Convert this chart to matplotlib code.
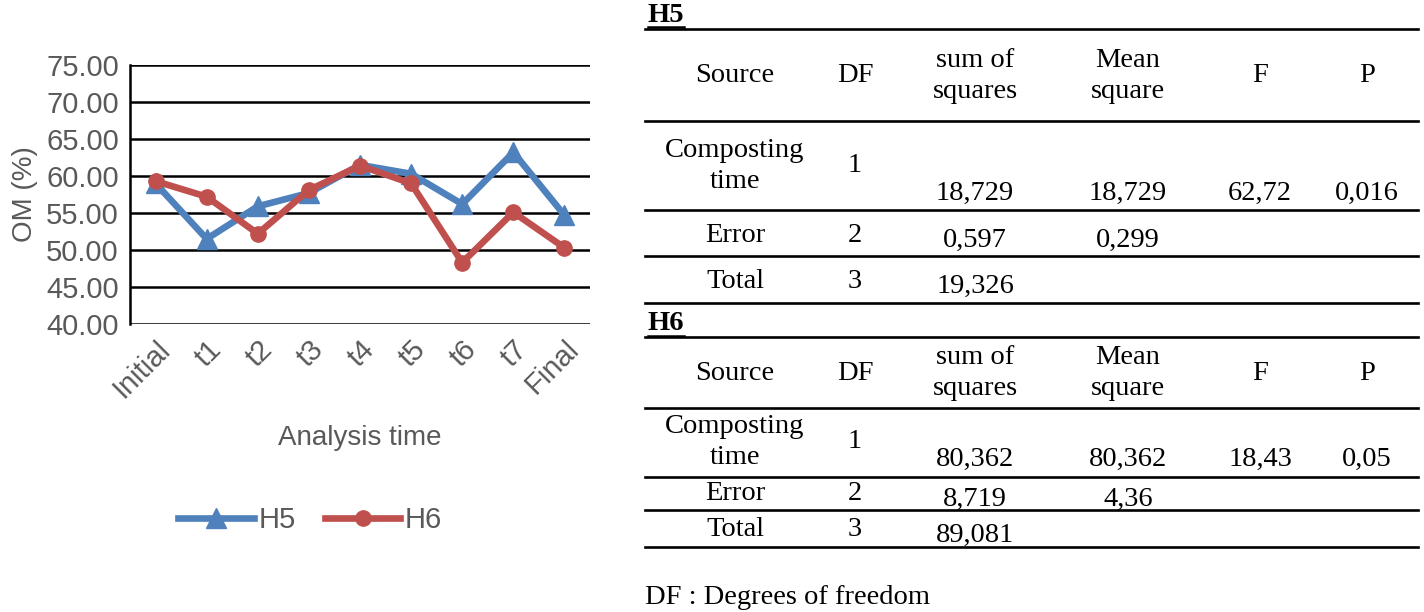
import matplotlib
matplotlib.use("Agg")
import matplotlib.pyplot as plt

# Data
tiempos = ['Initial', 't1', 't2', 't3', 't4', 't5', 't6', 't7', 'Final']
h5 = [59.0, 51.5, 55.9, 57.7, 61.5, 60.3, 56.2, 63.2, 54.7]
h6 = [59.3, 57.2, 52.2, 58.1, 61.4, 59.0, 48.3, 55.1, 50.3]

cabecalho = ['Source', 'DF', 'sum of\nsquares', 'Mean\nsquare', 'F', 'P']
fontes = ['Composting\ntime', 'Error', 'Total']
df_vals = ['1', '2', '3']
h5_ss = ['18,729', '0,597', '19,326']
h5_ms = ['18,729', '0,299', '']
h5_f = ['62,72', '', '']
h5_p = ['0,016', '', '']
h6_ss = ['80,362', '8,719', '89,081']
h6_ms = ['80,362', '4,36', '']
h6_f = ['18,43', '', '']
h6_p = ['0,05', '', '']

cinza = '#595959'
azul = '#4F81BD'
vermelho = '#C0504D'

fig = plt.figure(figsize=(14.24, 6.12), dpi=100)

# Line chart
ax = fig.add_axes([130/1424, 1-324/612, 460/1424, 259/612])
x = range(len(tiempos))
ax.plot(x, h5, color=azul, lw=4.8, marker='^', ms=15, label='H5', zorder=3)
ax.plot(x, h6, color=vermelho, lw=4.8, marker='o', ms=11, label='H6', zorder=4)
ax.set_xlim(-0.5, len(tiempos) - 0.5)
ax.set_ylim(40, 75)
ax.set_yticks(range(40, 76, 5))
ax.set_yticklabels([f'{v:.2f}' for v in range(40, 76, 5)])
ax.set_xticks(list(x))
ax.set_xticklabels(tiempos, rotation=45, ha='right', rotation_mode='anchor')
ax.tick_params(length=0, labelsize=21, labelcolor=cinza, pad=8)
for lab in ax.get_xticklabels() + ax.get_yticklabels():
    lab.set_fontfamily('Liberation Sans')
ax.grid(axis='y', color='black', lw=1.8)
ax.set_axisbelow(True)
for s in ['top', 'right', 'bottom']:
    ax.spines[s].set_visible(False)
ax.spines['left'].set_color('black')
ax.spines['left'].set_linewidth(1.8)
ax.set_xlabel('Analysis time', fontsize=20, color=cinza, family='Liberation Sans', labelpad=16)
ax.set_ylabel('OM (%)', fontsize=20, color=cinza, family='Liberation Sans', labelpad=6)
fig.legend(loc='center', bbox_to_anchor=(310/1424, 1-520/612), ncol=2, frameon=False,
           prop={'family': 'Liberation Sans', 'size': 21}, labelcolor=cinza,
           handlelength=2.6, columnspacing=1.0, handletextpad=0.15)

# Table overlay in pixel coordinates
tb = fig.add_axes([0, 0, 1, 1])
tb.set_xlim(0, 1424)
tb.set_ylim(612, 0)
tb.axis('off')
serif = 'Liberation Serif'
fs = 20.5
colx = [735, 855, 975, 1128, 1260, 1367]
x0, x1 = 645, 1418


def tabela(nome, y0, ss, ms, f, p, linhas, ys):
    tb.text(648, y0, nome, fontsize=fs, family=serif, fontweight='bold', va='center')
    tb.plot([648, 684], [y0 + 12, y0 + 12], color='black', lw=1.8)
    for yl in linhas:
        tb.plot([x0, x1], [yl, yl], color='black', lw=1.9)
    yh, yc, yc_val, ye, yt = ys
    for cx, h in zip(colx, cabecalho):
        tb.text(cx, yh, h, fontsize=fs, family=serif, ha='center', va='center', linespacing=1.3)
    rows_y = [yc, ye, yt]
    for i in range(3):
        tb.text(colx[0], rows_y[i], fontes[i], fontsize=fs, family=serif, ha='center', va='center', linespacing=1.3)
        tb.text(colx[1], rows_y[i], df_vals[i], fontsize=fs, family=serif, ha='center', va='center')
        vy = yc_val if i == 0 else rows_y[i] + 5
        for cx, val in zip(colx[2:], [ss[i], ms[i], f[i], p[i]]):
            tb.text(cx, vy, val, fontsize=fs, family=serif, ha='center', va='center')


tabela('H5', 15, h5_ss, h5_ms, h5_f, h5_p, [29, 121, 210, 256, 303], (76, 166, 193, 235, 281))
tabela('H6', 324, h6_ss, h6_ms, h6_f, h6_p, [337, 408, 477, 510, 547], (373, 442, 459, 494, 530))
tb.text(645, 598, 'DF : Degrees of freedom', fontsize=fs, family=serif, va='center')

fig.savefig('out.png', dpi=100)
